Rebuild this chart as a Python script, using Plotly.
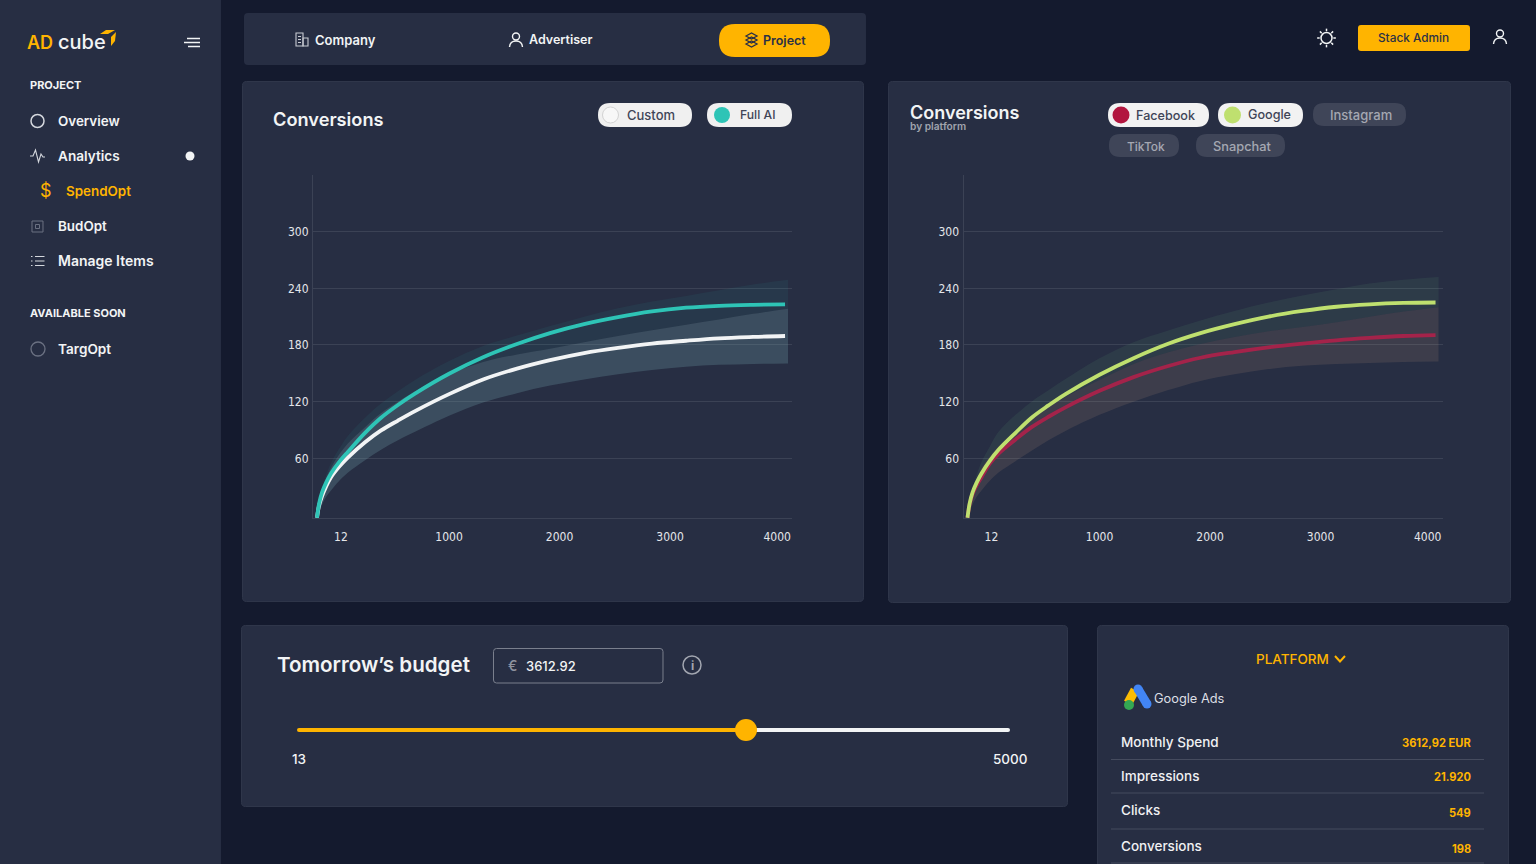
import plotly.graph_objects as go

W, H = 1536, 864

# budget positions read against the axis labels
spend = [-195, -176, -149, -113, -68, 5, 86, 240, 385, 538, 692, 1000, 1308, 1615, 1914, 2222, 2529, 2837, 3145, 3443, 3751, 4041]
spend_band = spend[:-1] + [4068]

# left chart: Custom / Full AI
custom = [-3, 10, 20, 30, 40, 51, 61, 77, 89.5, 100, 110, 128, 143.5, 155, 164, 171.5, 177, 181.5, 184.5, 187, 188.5, 189.5]
custom_low = [-3, 3, 11, 19, 26, 36, 45, 58, 69, 79, 88, 105, 119, 129, 137, 143.5, 149, 153.5, 157, 159, 160, 160.5]
custom_high = [-3, 15, 27, 39, 50, 64, 76, 93, 108, 120, 131, 149, 162, 170, 176, 183, 189.5, 195.5, 201.5, 207, 213, 218.5]
full_ai = [-3, 12, 24, 34, 44, 56, 67, 87, 103, 116.5, 128.5, 149.5, 167, 181, 192.5, 202, 209.5, 215.5, 219.5, 221.5, 222.5, 223]
full_ai_high = [-3, 15, 29, 42, 55, 70, 84, 103, 118, 131, 143, 163, 179, 190, 200, 210, 219, 226, 232, 238, 244, 249]

# right chart: Facebook / Google
facebook = [-3, 11, 22, 31, 40, 54, 65, 80, 93, 104, 114, 131.5, 146, 157.5, 166.5, 172.5, 177.5, 181.5, 185, 187.5, 189.5, 190.5]
facebook_low = [-3, 3, 11, 19, 26, 36, 45, 57, 68, 79, 89, 106, 120, 132, 142, 149, 154.5, 158, 160, 161, 162, 162.5]
facebook_high = [-3, 13, 26, 38, 50, 62, 73, 89, 103, 114, 125, 143, 160, 172, 181, 188.5, 194.5, 199, 204, 210, 215.5, 220]
google = [-3, 12, 24, 34, 44, 57, 69, 87, 103, 116, 128, 148.5, 166, 181, 192.5, 202, 210, 216, 220.5, 223, 224.5, 225]
google_high = [-3, 14, 28, 42, 56, 72, 88, 106, 120, 132, 144, 166, 183, 195, 206, 216, 225, 232.5, 239, 245, 249, 252]

x_tick_pos = [22, 1000, 2000, 3000, 3970]
x_tick_labels = ['12', '1000', '2000', '3000', '4000']
y_tick_pos = [60, 120, 180, 240, 300, 360]
y_tick_labels = ['60', '120', '180', '240', '300', '']

menu_project = ['Overview', 'Analytics', 'BudOpt', 'Manage Items']
menu_sizes = [13.4, 13.6, 13.4, 14]
platform_labels = ['Monthly Spend', 'Impressions', 'Clicks', 'Conversions']
platform_values = ['3612,92 EUR', '21.920', '549', '198']

BG = '#141A2E'
PANEL = '#272E43'
EDGE = '#2F364A'
GRID = '#3B4255'
AMBER = '#FFB400'
INK = '#2B3046'
TEAL = '#2EC4B6'
LIME = '#BFE06F'
RED = '#A4234A'
WHITE = '#F2F4F5'
FONT = 'Inter'

shapes = []
notes = []


def px(x, y):
    return f'{x / W:.5f},{1 - y / H:.5f}'


def path(d, fill=None, line=None, width=1.5):
    shapes.append(dict(type='path', xref='paper', yref='paper', path=d, layer='below',
                       fillcolor=fill or 'rgba(0,0,0,0)',
                       line=dict(color=line or 'rgba(0,0,0,0)', width=width if line else 0)))


def rrect(x0, y0, x1, y1, r, fill=None, line=None, width=1):
    d = (f'M {px(x0 + r, y0)} L {px(x1 - r, y0)} Q {px(x1, y0)} {px(x1, y0 + r)} '
         f'L {px(x1, y1 - r)} Q {px(x1, y1)} {px(x1 - r, y1)} '
         f'L {px(x0 + r, y1)} Q {px(x0, y1)} {px(x0, y1 - r)} '
         f'L {px(x0, y0 + r)} Q {px(x0, y0)} {px(x0 + r, y0)} Z')
    path(d, fill, line, width)


def poly(points, fill=None, line=None, width=1.5, close=False):
    d = 'M ' + ' L '.join(px(*p) for p in points) + (' Z' if close else '')
    path(d, fill, line, width)


def circle(cx, cy, r, fill=None, line=None, width=1.5):
    shapes.append(dict(type='circle', xref='paper', yref='paper', layer='below',
                       x0=(cx - r) / W, x1=(cx + r) / W, y0=1 - (cy + r) / H, y1=1 - (cy - r) / H,
                       fillcolor=fill or 'rgba(0,0,0,0)',
                       line=dict(color=line or 'rgba(0,0,0,0)', width=width if line else 0)))


def seg(x0, y0, x1, y1, color, width=1.5):
    shapes.append(dict(type='line', xref='paper', yref='paper', layer='below',
                       x0=x0 / W, x1=x1 / W, y0=1 - y0 / H, y1=1 - y1 / H,
                       line=dict(color=color, width=width)))


def text(x, y, s, size=13, color=WHITE, weight=500, anchor='left', family=FONT):
    # Inter sits about a pixel inside the anchor compared with the reference font
    x += {'left': -1, 'right': 1}.get(anchor, 0)
    notes.append(dict(xref='paper', yref='paper', x=x / W, y=1 - y / H, text=s, showarrow=False,
                      xanchor=anchor, yanchor='middle', borderpad=0,
                      font=dict(family=family, size=size, color=color, weight=weight)))


def user_icon(x, y, color):
    circle(x, y - 3.5, 3.5, None, color, 1.4)
    path(f'M {px(x - 6.5, y + 7)} Q {px(x - 6, y + 1)} {px(x, y + 1)} Q {px(x + 6, y + 1)} {px(x + 6.5, y + 7)}',
         None, color, 1.4)


# page blocks
rrect(-4, -4, 221, H + 4, 0, PANEL)
rrect(244, 13, 866, 65, 4, PANEL)
rrect(242.5, 81.5, 863.5, 601.5, 4, PANEL, EDGE)
rrect(888.5, 81.5, 1510.5, 602.5, 4, PANEL, EDGE)
rrect(241.5, 625.5, 1067.5, 806.5, 4, PANEL, EDGE)
rrect(1097.5, 625.5, 1508.5, 880, 4, PANEL, EDGE)

# sidebar
text(27, 42, 'AD', 18, AMBER, 600)
text(58, 42, 'cube', 20, WHITE, 500)
poly([(100, 34), (106, 30), (115, 30), (108, 34)], AMBER, close=True)
poly([(111, 37), (116, 32), (115, 41), (111, 46)], AMBER, close=True)
seg(187, 38.5, 200, 38.5, WHITE, 1.5)
seg(184, 42.5, 200, 42.5, WHITE, 1.5)
seg(188, 46.5, 200, 46.5, WHITE, 1.5)
text(29.5, 85, 'PROJECT', 11, WHITE, 700)
text(29.5, 312.5, 'AVAILABLE SOON', 11, WHITE, 700)
for label, size, y in zip(menu_project, menu_sizes, [121, 156, 226, 261]):
    text(58, y, label, size, WHITE, 600)
text(66, 191, 'SpendOpt', 13.4, AMBER, 600)
text(58, 349, 'TargOpt', 13.6, WHITE, 600)
circle(37.5, 121, 6.5, None, '#D4D7DD', 1.5)
poly([(30, 156), (33, 156), (35.5, 150), (38.5, 162), (41, 154), (43, 157), (45, 157)], None, '#D4D7DD', 1.1)
circle(190, 156, 4.5, WHITE)
text(46, 190.5, '$', 18, AMBER, 400, 'center')
rrect(32, 221, 43, 232, 0, None, '#6B7182', 1)
rrect(35.5, 224.5, 39.5, 228.5, 0, None, '#6B7182', 1)
for y in [256.5, 261, 265.5]:
    seg(31, y, 32.5, y, '#D4D7DD', 1.2)
    seg(35, y, 44.5, y, '#D4D7DD', 1)
circle(38, 349, 7, None, '#6B7182', 1.3)

# top bar
rrect(296, 33, 303, 46, 0, None, '#C8CBD2', 1.1)
rrect(303, 38, 308, 46, 0, None, '#C8CBD2', 1.1)
for wy in [36.5, 39.5, 42.5]:
    seg(298, wy, 301, wy, '#C8CBD2', 1)
text(315, 40, 'Company', 13, WHITE, 600)
user_icon(516, 40, WHITE)
text(529, 40, 'Advertiser', 12.5, WHITE, 600)
rrect(719, 24, 830, 57, 16, AMBER)
for y in [36, 40, 44]:
    poly([(746, y), (751.5, y - 3), (757, y), (751.5, y + 3)], None, INK, 1.3, close=True)
text(763, 40.5, 'Project', 12.5, INK, 600)
circle(1326.5, 38, 5.5, None, WHITE, 1.5)
for a, b in [(0, 8.5), (0, -8.5), (8.5, 0), (-8.5, 0), (6, 6), (-6, 6), (6, -6), (-6, -6)]:
    seg(1326.5 + a * 0.8, 38 + b * 0.8, 1326.5 + a * 1.1, 38 + b * 1.1, WHITE, 1.5)
rrect(1358, 25, 1470, 51, 3, AMBER)
text(1413.5, 38, 'Stack Admin', 11.8, INK, 500, 'center')
user_icon(1500, 37, WHITE)

# chart headers
text(273, 119, 'Conversions', 18.2, WHITE, 600)
rrect(598, 103, 692, 127, 12, '#F0F0F0')
circle(610.5, 115, 8, '#F7F7F7', '#C9C9C9', 0.8)
text(627, 115, 'Custom', 13, '#3F4557', 500)
rrect(707, 103, 792, 127, 12, '#F0F0F0')
circle(722, 115, 8, TEAL)
text(740, 114.5, 'Full AI', 12.2, '#3F4557', 500)
text(910, 112.5, 'Conversions', 18, WHITE, 600)
text(910, 127, 'by platform', 10.2, '#A0A4AE', 600)
rrect(1108, 103, 1209, 127, 12, '#F2F2F2')
circle(1121, 115, 8.5, '#B2163F')
text(1136, 115, 'Facebook', 12.6, '#3F4557', 500)
rrect(1218, 103, 1303, 127, 12, '#F2F2F2')
circle(1232.5, 115, 8.5, LIME)
text(1248, 114.5, 'Google', 12.6, '#3F4557', 500)
rrect(1313, 103, 1406, 126, 11, '#3F4558')
text(1360.5, 114.5, 'Instagram', 13, '#A5A8B2', 500, 'center')
rrect(1109, 134, 1179, 157, 11, '#3F4558')
text(1146, 146, 'TikTok', 12, '#A5A8B2', 500, 'center')
rrect(1196, 134, 1285, 157, 11, '#3F4558')
text(1241.5, 146, 'Snapchat', 12.8, '#A5A8B2', 500, 'center')

# budget panel
text(277, 664.5, 'Tomorrow’s budget', 20.6, WHITE, 600)
rrect(493.5, 648.5, 663, 683, 3, None, '#7A7F8D', 1)
text(508, 665.5, '€', 14, '#8E929E', 500)
text(526, 665.5, '3612.92', 13, WHITE, 500)
circle(692, 665, 9, None, '#A2A6B0', 1.5)
text(692, 665.5, 'i', 12, '#A2A6B0', 700, 'center')
seg(299, 730, 746, 730, AMBER, 4)
seg(746, 730, 1008, 730, WHITE, 4)
circle(299, 730, 2, AMBER)
circle(1008, 730, 2, WHITE)
circle(746, 730, 11, AMBER)
text(298.5, 759, '13', 13.5, WHITE, 500, 'center')
text(1010, 759, '5000', 13.5, WHITE, 500, 'center')

# platform panel
text(1292.5, 659, 'PLATFORM', 13.5, AMBER, 500, 'center')
poly([(1335, 656), (1340, 661.5), (1345, 656)], None, AMBER, 2)
seg(1135, 690, 1128, 703, '#FBBC04', 9)
seg(1138, 689, 1147, 704, '#4285F4', 9)
circle(1138, 689, 4.5, '#4285F4')
circle(1147, 704, 4.5, '#4285F4')
circle(1129, 705, 5, '#34A853')
text(1154, 698, 'Google Ads', 12.8, '#DCDFE4', 400)
for label, value, y_l, y_v in zip(platform_labels, platform_values, [742, 776, 810, 846], [743, 777, 813, 849]):
    text(1121, y_l, label, 13.5, '#F0F1F3', 500)
    text(1471, y_v, value, 11.1, AMBER, 700, 'right')
for y in [759.5, 793, 829, 863]:
    seg(1111, y, 1484, y, '#454B5E', 1)

fig = go.Figure()


def band(xa, ya, low, high, color):
    fig.add_trace(go.Scatter(x=spend_band, y=low, xaxis=xa, yaxis=ya, mode='lines',
                             line=dict(width=0, shape='spline', smoothing=1), hoverinfo='skip'))
    fig.add_trace(go.Scatter(x=spend_band, y=high, xaxis=xa, yaxis=ya, mode='lines', fill='tonexty',
                             fillcolor=color, line=dict(width=0, shape='spline', smoothing=1), hoverinfo='skip'))


def curve(xa, ya, values, color, name):
    fig.add_trace(go.Scatter(x=spend, y=values, xaxis=xa, yaxis=ya, mode='lines', name=name,
                             line=dict(color=color, width=3.8, shape='spline', smoothing=1)))


band('x', 'y', custom_high, full_ai_high, 'rgba(49,197,183,0.07)')
band('x', 'y', custom_low, custom_high, 'rgba(120,170,180,0.25)')
curve('x', 'y', custom, WHITE, 'Custom')
curve('x', 'y', full_ai, TEAL, 'Full AI')

band('x2', 'y2', facebook_high, google_high, 'rgba(110,200,130,0.09)')
band('x2', 'y2', facebook_low, facebook_high, 'rgba(220,170,140,0.12)')
curve('x2', 'y2', facebook, RED, 'Facebook')
curve('x2', 'y2', google, LIME, 'Google')

tick_font = dict(family='DejaVu Sans Condensed, Lato, Inter', size=12, color='#E4E6EA')
x_axis = dict(range=[-231, 4104], tickmode='array', tickvals=x_tick_pos, ticktext=x_tick_labels,
              automargin=False, showgrid=False, zeroline=False, showline=True, linecolor=GRID, linewidth=1,
              ticks='outside', ticklen=8, tickcolor='rgba(0,0,0,0)', tickfont=tick_font)
y_axis = dict(range=[-3.2, 360], tickmode='array', tickvals=y_tick_pos, ticktext=y_tick_labels,
              automargin=False, showgrid=True, gridcolor=GRID, gridwidth=1, zeroline=False, showline=True,
              linecolor=GRID, linewidth=1, ticks='outside', ticklen=1, tickcolor='rgba(0,0,0,0)',
              tickfont=tick_font)
y_domain = [1 - 518 / H, 1 - 175 / H]

fig.update_layout(
    width=W, height=H, margin=dict(l=0, r=0, t=0, b=0, pad=0), autosize=False,
    paper_bgcolor=BG, plot_bgcolor='rgba(0,0,0,0)', showlegend=False,
    font=dict(family=FONT, color=WHITE),
    shapes=shapes, annotations=notes,
    xaxis=dict(x_axis, domain=[313 / W, 792 / W], anchor='y'),
    yaxis=dict(y_axis, domain=y_domain, anchor='x'),
    xaxis2=dict(x_axis, domain=[963.5 / W, 1442.5 / W], anchor='y2'),
    yaxis2=dict(y_axis, domain=y_domain, anchor='x2'),
)

fig.write_html('out.html', config=dict(displayModeBar=False),
               post_script="document.body.style.margin='0';document.body.style.overflow='hidden';")
print('saved out.html')
